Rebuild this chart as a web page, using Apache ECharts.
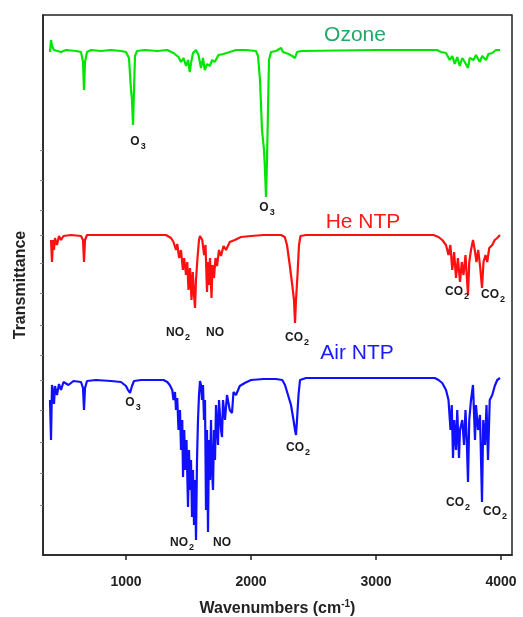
<!DOCTYPE html>
<html>
<head>
<meta charset="utf-8">
<title>FTIR spectra</title>
<script src="https://cdn.jsdelivr.net/npm/echarts@6/dist/echarts.min.js"></script>
<style>
  html, body { margin: 0; padding: 0; background: #fff; }
  #main { width: 523px; height: 617px; }
</style>
</head>
<body>
<div id="main"></div>
<script>
// wavenumber (cm-1), transmittance (offset, a.u.)
var ozone = [
  [392, 503], [400, 515], [408, 509], [424, 505], [480, 503], [520, 505], [600, 504], [640, 503],
  [656, 493], [664, 465], [672, 493], [688, 503], [720, 505], [800, 504], [880, 505], [960, 504],
  [1000, 503], [1024, 497], [1040, 465], [1048, 455], [1056, 430], [1064, 465], [1072, 499],
  [1088, 504], [1150, 505], [1250, 504], [1330, 505], [1380, 502], [1420, 498], [1440, 493],
  [1460, 497], [1480, 489], [1496, 495], [1510, 483], [1520, 492], [1536, 502], [1560, 505],
  [1580, 500], [1600, 487], [1616, 497], [1630, 485], [1650, 491], [1670, 489], [1690, 495],
  [1710, 493], [1740, 500], [1780, 501], [1830, 503], [1880, 505], [1960, 505], [2040, 504],
  [2056, 499], [2072, 475], [2088, 425], [2104, 405], [2112, 385], [2120, 358], [2128, 395],
  [2136, 445], [2144, 495], [2160, 503], [2200, 504], [2240, 507], [2256, 503], [2270, 505],
  [2300, 501], [2330, 499], [2352, 497], [2368, 503], [2400, 504], [3000, 505], [3488, 505],
  [3520, 503], [3560, 502], [3590, 495], [3610, 499], [3630, 491], [3650, 498], [3670, 489],
  [3690, 497], [3710, 493], [3736, 487], [3750, 497], [3780, 495], [3800, 500], [3830, 493],
  [3850, 499], [3880, 495], [3900, 501], [3930, 502], [3960, 505], [3992, 505]
];

var heNtp = [
  [400, 315], [408, 293], [416, 315], [424, 305], [432, 317], [448, 310], [464, 319], [480, 315],
  [500, 319], [560, 320], [640, 319], [656, 315], [664, 293], [672, 315], [688, 320], [1000, 320],
  [1320, 320], [1360, 317], [1380, 313], [1400, 305], [1410, 311], [1425, 297], [1440, 305],
  [1455, 285], [1465, 297], [1480, 280], [1490, 293], [1500, 265], [1512, 287], [1524, 255],
  [1534, 283], [1544, 260], [1552, 247], [1560, 275], [1572, 297], [1584, 315], [1592, 319],
  [1610, 315], [1625, 300], [1636, 310], [1648, 263], [1656, 293], [1664, 270], [1672, 297],
  [1684, 257], [1692, 290], [1704, 277], [1716, 297], [1728, 289], [1744, 305], [1760, 299],
  [1780, 309], [1800, 305], [1830, 313], [1870, 315], [1920, 318], [2000, 319], [2100, 320],
  [2240, 320], [2270, 318], [2288, 310], [2310, 290], [2330, 270], [2344, 255], [2352, 232],
  [2360, 255], [2372, 280], [2384, 310], [2396, 319], [2440, 320], [3000, 320], [3460, 320],
  [3500, 318], [3530, 315], [3560, 310], [3580, 300], [3595, 310], [3610, 285], [3625, 303],
  [3640, 277], [3655, 297], [3672, 273], [3686, 293], [3700, 280], [3716, 300], [3728, 275],
  [3736, 260], [3746, 293], [3760, 305], [3776, 315], [3790, 305], [3804, 293], [3818, 305],
  [3834, 287], [3848, 267], [3860, 293], [3876, 300], [3890, 293], [3906, 307], [3930, 310],
  [3950, 315], [3970, 317], [3992, 320]
];

var airNtp = [
  [392, 155], [400, 115], [408, 170], [416, 163], [424, 151], [432, 169], [448, 160], [464, 171],
  [480, 165], [500, 173], [540, 170], [580, 174], [640, 173], [656, 167], [664, 145], [672, 167],
  [688, 174], [760, 175], [880, 174], [960, 173], [1000, 169], [1016, 165], [1032, 162],
  [1048, 169], [1064, 174], [1120, 175], [1300, 175], [1330, 173], [1350, 170], [1370, 165],
  [1380, 155], [1392, 163], [1400, 145], [1410, 157], [1420, 125], [1432, 145], [1440, 105],
  [1450, 135], [1456, 78], [1466, 125], [1474, 85], [1484, 115], [1496, 48], [1504, 105],
  [1512, 65], [1520, 95], [1528, 38], [1536, 85], [1544, 30], [1552, 75], [1560, 15],
  [1568, 95], [1576, 135], [1584, 160], [1592, 174], [1600, 170], [1608, 155], [1616, 170],
  [1624, 135], [1632, 155], [1640, 45], [1648, 125], [1656, 23], [1664, 115], [1672, 75],
  [1680, 135], [1688, 85], [1696, 65], [1704, 125], [1712, 95], [1720, 150], [1736, 110],
  [1744, 155], [1760, 125], [1768, 118], [1776, 155], [1792, 135], [1808, 160], [1830, 145],
  [1848, 142], [1860, 163], [1880, 160], [1910, 169], [1950, 172], [2000, 175], [2100, 176],
  [2200, 176], [2250, 175], [2272, 170], [2296, 160], [2320, 150], [2340, 135], [2352, 125],
  [2360, 120], [2368, 135], [2380, 160], [2392, 175], [2440, 177], [3000, 177], [3470, 177],
  [3500, 175], [3530, 172], [3560, 165], [3580, 155], [3596, 125], [3606, 150], [3616, 97],
  [3626, 135], [3640, 105], [3650, 145], [3664, 97], [3672, 125], [3690, 135], [3704, 110],
  [3716, 145], [3726, 115], [3736, 73], [3746, 135], [3760, 155], [3776, 170], [3792, 115],
  [3800, 150], [3816, 125], [3832, 140], [3848, 53], [3858, 135], [3872, 110], [3884, 150],
  [3896, 95], [3910, 155], [3930, 160], [3950, 169], [3970, 175], [3992, 177]
];

// annotations: [wavenumber, y, text]
var peakLabels = [
  [1096, 413, '{b|O}{s|3}'],
  [2128, 347, '{b|O}{s|3}'],
  [1416, 222, '{b|NO}{s|2}'],
  [1712, 222, '{b|NO}'],
  [2368, 217, '{b|CO}{s|2}'],
  [3648, 263, '{b|CO}{s|2}'],
  [3936, 260, '{b|CO}{s|2}'],
  [1056, 152, '{b|O}{s|3}'],
  [2376, 107, '{b|CO}{s|2}'],
  [1448, 12, '{b|NO}{s|2}'],
  [1768, 12, '{b|NO}'],
  [3656, 52, '{b|CO}{s|2}'],
  [3952, 43, '{b|CO}{s|2}']
];
var seriesNames = ['Ozone', 'He NTP', 'Air NTP'];
var namePos = [[2832, 520], [2896, 333], [2848, 202]];
var colors = ['#00e600', '#ff1010', '#1010ff'];
var nameColors = ['#1fa866', '#ff1a1a', '#1a1aff'];

var xTicks = [1000, 2000, 3000, 4000];
var yTicks = [50, 82, 113, 145, 175, 200, 230, 262, 292, 320, 345, 375, 405];

var myChart = echarts.init(document.getElementById('main'));

var spectra = [ozone, heNtp, airNtp].map(function (d, i) {
  return {
    name: seriesNames[i],
    type: 'line',
    data: d,
    symbol: 'none',
    animation: false,
    lineStyle: { color: colors[i], width: 2.2 },
    z: 2
  };
});

var nameSeries = {
  type: 'scatter',
  symbolSize: 0,
  animation: false,
  itemStyle: { opacity: 1 },
  data: namePos.map(function (p, i) {
    return {
      value: p,
      label: {
        show: true, position: 'inside', formatter: seriesNames[i],
        color: nameColors[i], fontSize: 21, fontFamily: 'Liberation Sans, Arial, sans-serif'
      }
    };
  }),
  z: 5
};

var peakSeries = {
  type: 'scatter',
  symbolSize: 0,
  animation: false,
  itemStyle: { opacity: 1 },
  data: peakLabels.map(function (p) {
    return { value: [p[0], p[1]], text: p[2] };
  }),
  label: {
    show: true,
    position: 'inside',
    color: '#1a1a1a',
    formatter: function (params) { return params.data.text; },
    rich: {
      b: { fontSize: 12, fontWeight: 'bold', color: '#1a1a1a', fontFamily: 'Liberation Sans, Arial, sans-serif' },
      s: { fontSize: 9, fontWeight: 'bold', color: '#1a1a1a', padding: [9, 0, 0, 1], fontFamily: 'Liberation Sans, Arial, sans-serif' }
    }
  },
  z: 5
};

var option = {
  backgroundColor: '#fff',
  textStyle: { fontFamily: 'Liberation Sans, Arial, sans-serif' },
  grid: {
    left: 43, right: 11, top: 15, bottom: 62,
    outerBoundsMode: 'none',
    show: true, borderColor: '#222', borderWidth: 1.5
  },
  xAxis: {
    type: 'value',
    min: 336,
    max: 4088,
    name: 'Wavenumbers (cm{sup|-1})',
    nameLocation: 'middle',
    nameGap: 44,
    nameTextStyle: {
      fontSize: 16, fontWeight: 'bold', color: '#222',
      rich: {
        sup: { fontSize: 10, fontWeight: 'bold', color: '#222', padding: [0, 0, 10, 0] }
      }
    },
    splitLine: { show: false },
    axisLine: { lineStyle: { color: '#222', width: 1.5 } },
    axisTick: { customValues: xTicks, length: 5, lineStyle: { color: '#222', width: 1.5 } },
    axisLabel: {
      customValues: xTicks, margin: 20, fontSize: 14, fontWeight: 'bold', color: '#222',
      formatter: function (v) { return String(v); }
    }
  },
  yAxis: {
    type: 'value',
    min: 0,
    max: 540,
    name: 'Transmittance',
    nameLocation: 'middle',
    nameGap: 14,
    nameRotate: 90,
    nameTextStyle: { fontSize: 16, fontWeight: 'bold', color: '#222' },
    splitLine: { show: false },
    axisLine: { lineStyle: { color: '#222', width: 1.5 } },
    axisTick: { customValues: yTicks, length: 3, lineStyle: { color: '#888' } },
    axisLabel: { show: false }
  },
  series: spectra.concat([nameSeries, peakSeries])
};

myChart.setOption(option);
window.onresize = function () {
  myChart.resize();
};
</script>
</body>
</html>
